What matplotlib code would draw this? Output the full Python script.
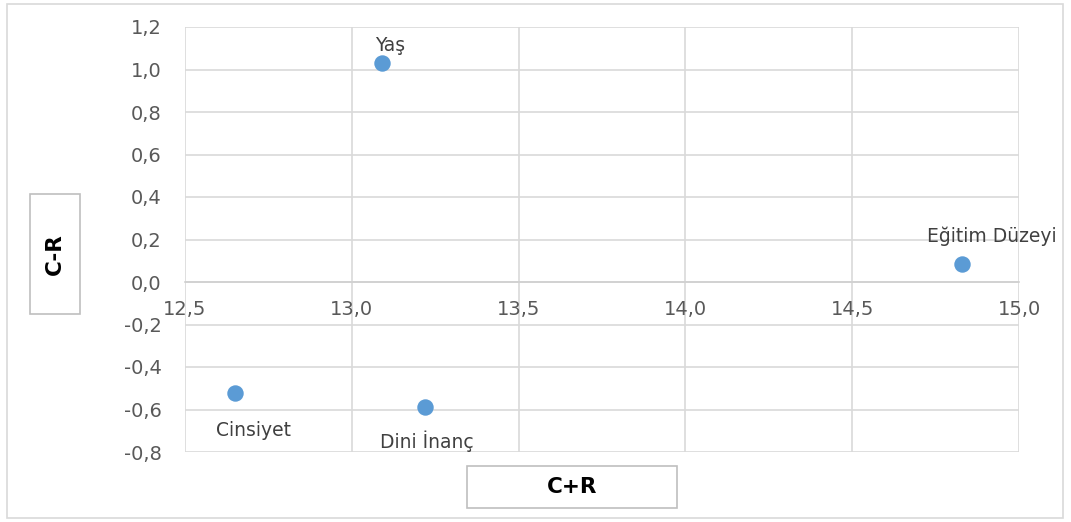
import matplotlib
matplotlib.use("Agg")
import matplotlib.pyplot as plt
from matplotlib.patches import Rectangle
from matplotlib.ticker import FuncFormatter

labels = ["Yaş", "Eğitim Düzeyi", "Cinsiyet", "Dini İnanç"]
c_plus_r = [13.09, 14.83, 12.65, 13.22]
c_minus_r = [1.03, 0.085, -0.52, -0.59]
x_ticks = [12.5, 13.0, 13.5, 14.0, 14.5, 15.0]
y_ticks = [-0.8, -0.6, -0.4, -0.2, 0.0, 0.2, 0.4, 0.6, 0.8, 1.0, 1.2]
# label offsets in pixels (dx, dy)
offsets = [(8, 18), (30, 28), (18, -38), (2, -34)]

plt.rcParams['font.family'] = ['DejaVu Sans']
W, H = 1071, 522
fig = plt.figure(figsize=(W / 100, H / 100), dpi=100)
fig.patch.set_facecolor('white')

# outer border
fig.patches.append(Rectangle((7 / W, 4 / H), (1063 - 7) / W, (518 - 4) / H,
                             transform=fig.transFigure, fill=False,
                             edgecolor='#d9d9d9', linewidth=1.2))

ax = fig.add_axes([185 / W, (H - 452) / H, 834 / W, 425 / H])
ax.set_xlim(12.5, 15.0)
ax.set_ylim(-0.8, 1.2)
ax.set_xticks(x_ticks)
ax.set_yticks(y_ticks)
fmt = FuncFormatter(lambda v, p: f"{v:.1f}".replace('.', ',').replace('-0,0', '0,0'))
ax.xaxis.set_major_formatter(fmt)
ax.yaxis.set_major_formatter(fmt)
ax.grid(True, color='#d9d9d9', linewidth=1.2)
ax.set_axisbelow(True)
for s in ['top', 'right', 'left']:
    ax.spines[s].set_visible(False)
ax.spines['bottom'].set_position(('data', 0))
ax.spines['bottom'].set_color('#d0d0d0')
ax.spines['bottom'].set_linewidth(1.2)
ax.tick_params(axis='both', length=0, labelsize=14, labelcolor='#595959')
ax.tick_params(axis='y', pad=17)
ax.tick_params(axis='x', pad=13)

ax.scatter(c_plus_r, c_minus_r, s=140, color='#5b9bd5', zorder=3, linewidths=0)
for lab, x, y, (dx, dy) in zip(labels, c_plus_r, c_minus_r, offsets):
    ax.annotate(lab, (x, y), xytext=(dx * 0.72, dy * 0.72), textcoords='offset points',
                ha='center', va='center', fontsize=13.5, color='#404040',
                annotation_clip=False)

# axis title boxes
fig.patches.append(Rectangle((30 / W, (H - 314) / H), 50 / W, 120 / H,
                             transform=fig.transFigure, fill=False,
                             edgecolor='#bfbfbf', linewidth=1.2))
fig.text(55 / W, (H - 254) / H, "C-R", rotation=90, ha='center', va='center',
         fontsize=15.5, fontweight='bold', color='black')
fig.patches.append(Rectangle((467 / W, (H - 508) / H), 210 / W, 42 / H,
                             transform=fig.transFigure, fill=False,
                             edgecolor='#bfbfbf', linewidth=1.2))
fig.text(572 / W, (H - 487) / H, "C+R", ha='center', va='center',
         fontsize=15.5, fontweight='bold', color='black')

fig.savefig("out.png", dpi=100)
